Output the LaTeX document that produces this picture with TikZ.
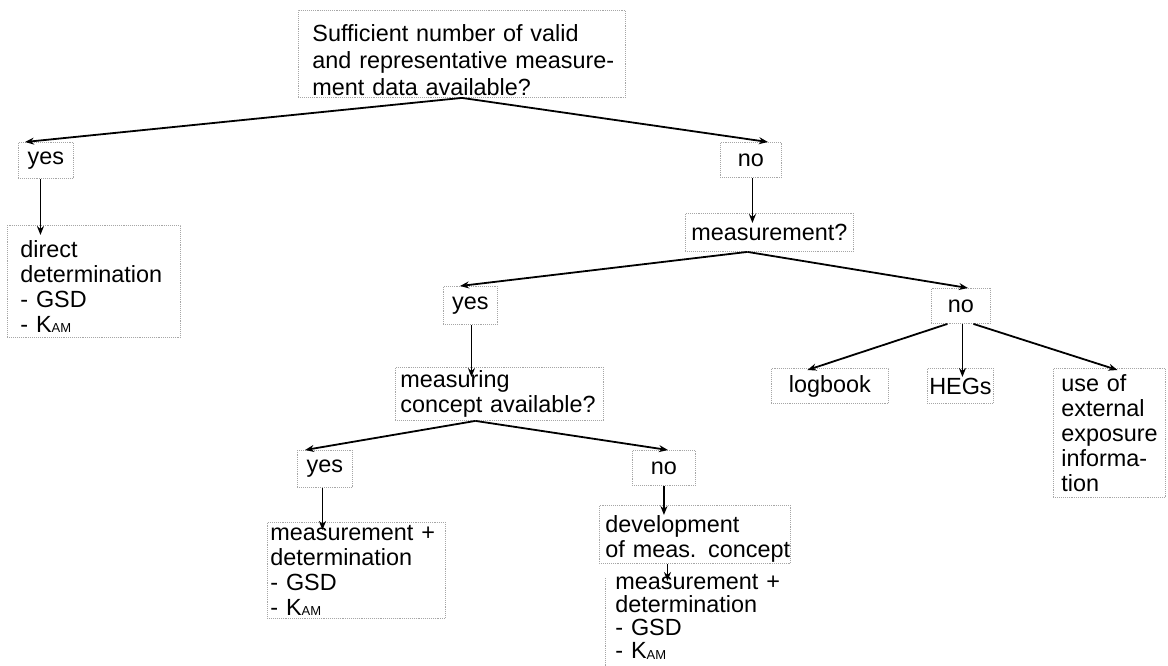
\documentclass[tikz,border=0pt]{standalone}
\usepackage{fontspec}
\setmainfont{Liberation Sans}
\usetikzlibrary{arrows.meta,calc}
\newcommand{\kam}{K\raisebox{-0.5pt}{\fontsize{13}{13}\selectfont AM}}
\newcommand{\tl}[1]{\mbox{#1}}
\newcommand{\up}[1]{\rule{0pt}{#1}}
\tikzset{
  box/.style={draw=gray!70, densely dotted, line width=0.9pt, anchor=north west,
              inner ysep=0pt, font=\fontsize{23.4}{25}\selectfont},
  lbox/.style={box, align=left},
  cbox/.style={box, align=center, inner xsep=0pt},
  arr/.style={line width=1.8pt, -{Stealth[length=9pt,width=7pt]}},
}
\begin{document}
\begin{tikzpicture}[x=1pt,y=-1pt]
\useasboundingbox (0,0) rectangle (1168,665);

% boxes
\node[lbox, inner xsep=14pt, text width=299pt, minimum width=327pt, minimum height=87pt,
      font=\fontsize{23.4}{27}\selectfont] (top) at (298,10)
  {\tl{\up{30pt}Sufficient number of valid}\\\tl{and representative measure-}\\\tl{ment data available?}};
\node[cbox, minimum width=55pt, minimum height=36pt] (yes1) at (18,142) {yes};
\node[cbox, minimum width=61pt, minimum height=35pt] (no1) at (720,142) {no};
\node[lbox, inner xsep=13pt, text width=147pt, minimum width=173pt, minimum height=112pt] (direct) at (7,225)
  {\tl{\up{27pt}direct}\\\tl{determination}\\\tl{- GSD}\\\tl{- \kam}};
\node[cbox, minimum width=168pt, minimum height=38pt] (meas) at (685,213) {measurement?};
\node[cbox, minimum width=54pt, minimum height=38pt] (yes2) at (443,286) {yes};
\node[cbox, minimum width=59pt, minimum height=35pt] (no2) at (931,288) {no};
\node[lbox, inner xsep=5pt, text width=198pt, minimum width=208pt, minimum height=53pt] (mc) at (395,367)
  {\tl{measuring}\\\tl{concept available?}};
\node[cbox, minimum width=117pt, minimum height=35pt] (logbook) at (771,368) {logbook};
\node[cbox, minimum width=66pt, minimum height=35pt] (hegs) at (927,368) {HEGs};
\node[lbox, inner xsep=8pt, text width=96pt, minimum width=112pt, minimum height=129pt] (useof) at (1053,368)
  {\tl{use of}\\\tl{external}\\\tl{exposure}\\\tl{informa-}\\\tl{tion}};
\node[cbox, minimum width=55pt, minimum height=37pt] (yes3) at (297,450) {yes};
\node[cbox, minimum width=63pt, minimum height=35pt] (no3) at (632,450) {no};
\node[lbox, inner xsep=3pt, text width=172pt, minimum width=178pt, minimum height=96pt] (mdl) at (267,522)
  {\tl{measurement +}\\\tl{determination}\\\tl{- GSD}\\\tl{- \kam}};
\node[lbox, inner xsep=6pt, text width=179pt, minimum width=191pt, minimum height=58pt] (dev) at (599,505)
  {\tl{\up{25pt}development}\\\tl{of meas. concept}};
\node[lbox, draw=none, inner xsep=10pt, text width=170pt, font=\fontsize{23.4}{23}\selectfont] (mdr) at (605,574)
  {\tl{measurement +}\\\tl{determination}\\\tl{- GSD}\\\tl{- \kam}};
\draw[draw=gray!70, densely dotted, line width=0.9pt, shorten <=4pt, shorten >=-8pt] (mdr.north west) -- (mdr.south west);

% connectors
\draw[arr] (top.south) -- ([xshift=7pt]yes1.north west);
\draw[arr] (top.south) -- ([xshift=17pt]no1.north);

\coordinate (s1) at ([xshift=-5.5pt]yes1.south);
\draw[arr, shorten >=-10pt] (s1) -- (s1 |- direct.north);
\coordinate (s2) at ([xshift=1.5pt]no1.south);
\draw[arr, shorten >=-10pt] (s2) -- (s2 |- meas.north);

\coordinate (m1) at ([xshift=-22pt]meas.south);
\draw[arr] (m1) -- ([xshift=17pt]yes2.north west);
\draw[arr] (m1) -- ([xshift=7pt]no2.north);

\coordinate (s3) at ([xshift=1pt]yes2.south);
\draw[arr, shorten >=-10pt] (s3) -- (s3 |- mc.north);

\draw[arr] ([xshift=-13.5pt]no2.south) -- ([xshift=-22.5pt,yshift=-2pt]logbook.north);
\coordinate (s4) at ([xshift=1.5pt]no2.south);
\draw[arr, shorten >=-9pt] (s4) -- (s4 |- hegs.north);
\draw[arr] ([xshift=12.5pt]no2.south) -- ([xshift=8pt,yshift=-2pt]useof.north);

\coordinate (c1) at ([xshift=-24pt]mc.south);
\draw[arr] (c1) -- ([xshift=8pt]yes3.north west);
\draw[arr] (c1) -- ([xshift=4pt]no3.north);

\coordinate (s5) at ([xshift=-2.5pt]yes3.south);
\draw[arr, shorten >=-8pt] (s5) -- (s5 |- mdl.north);
\coordinate (s6) at (no3.south);
\draw[arr, shorten >=-10pt] (s6) -- (s6 |- dev.north);
\coordinate (s7) at ([xshift=-27.5pt]dev.south);
\draw[arr, shorten >=-7pt] (s7) -- (s7 |- mdr.north);
\end{tikzpicture}
\end{document}
